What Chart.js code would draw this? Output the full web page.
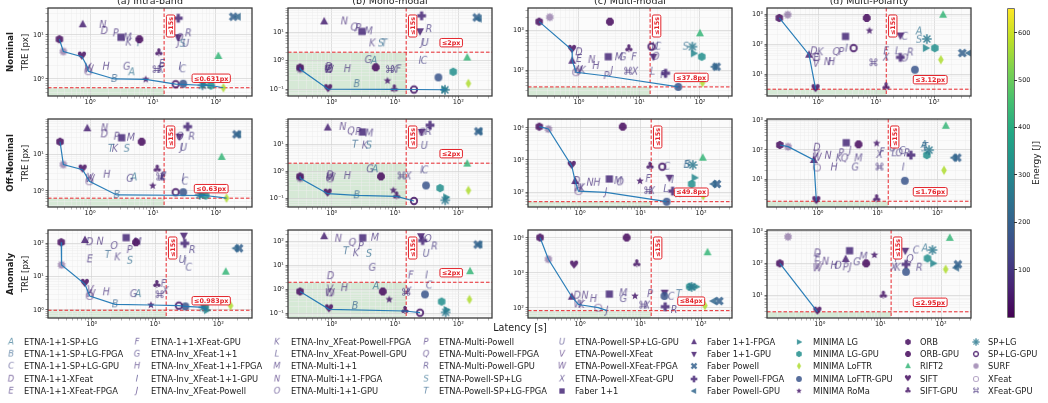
<!DOCTYPE html>
<html>
<head>
<meta charset="utf-8">
<script src="https://cdn.jsdelivr.net/npm/chart.js@4.4.1/dist/chart.umd.min.js"></script>
<style>
  html, body { margin: 0; padding: 0; background: #fff; }
  body { width: 1048px; height: 403px; position: relative; overflow: hidden; font-family: "DejaVu Sans", sans-serif; color: #222; }
  canvas.panel { position: absolute; }
  .txt { position: absolute; white-space: nowrap; }
  .vert { position: absolute; white-space: nowrap; transform: translate(-50%, -50%) rotate(-90deg); }
  .legtxt { position: absolute; white-space: nowrap; font-size: 8.35px; line-height: 10px; transform: translateY(-50%); }
  canvas.legmark { position: absolute; }
</style>
</head>
<body>
<script>
// ---------------------------------------------------------------------------
// Methods (legend order) and their mean energy per run [J]
// ---------------------------------------------------------------------------
const methods = [
  'ETNA-1+1-SP+LG', 'ETNA-1+1-SP+LG-FPGA', 'ETNA-1+1-SP+LG-GPU', 'ETNA-1+1-XFeat', 'ETNA-1+1-XFeat-FPGA',
  'ETNA-1+1-XFeat-GPU', 'ETNA-Inv_XFeat-1+1', 'ETNA-Inv_XFeat-1+1-FPGA', 'ETNA-Inv_XFeat-1+1-GPU', 'ETNA-Inv_XFeat-Powell',
  'ETNA-Inv_XFeat-Powell-FPGA', 'ETNA-Inv_XFeat-Powell-GPU', 'ETNA-Multi-1+1', 'ETNA-Multi-1+1-FPGA', 'ETNA-Multi-1+1-GPU',
  'ETNA-Multi-Powell', 'ETNA-Multi-Powell-FPGA', 'ETNA-Multi-Powell-GPU', 'ETNA-Powell-SP+LG', 'ETNA-Powell-SP+LG-FPGA',
  'ETNA-Powell-SP+LG-GPU', 'ETNA-Powell-XFeat', 'ETNA-Powell-XFeat-FPGA', 'ETNA-Powell-XFeat-GPU', 'Faber 1+1',
  'Faber 1+1-FPGA', 'Faber 1+1-GPU', 'Faber Powell', 'Faber Powell-FPGA', 'Faber Powell-GPU',
  'MINIMA LG', 'MINIMA LG-GPU', 'MINIMA LoFTR', 'MINIMA LoFTR-GPU', 'MINIMA RoMa',
  'ORB', 'ORB-GPU', 'RIFT2', 'SIFT', 'SIFT-GPU',
  'SP+LG', 'SP+LG-GPU', 'SURF', 'XFeat', 'XFeat-GPU'
];
const methodCodes = 'ABCDEFGHIJKLMNOPQRSTUVWX'.split('');
const energyJ = [
  240, 200, 120, 80, 90, 95, 100, 85, 110, 90, 95, 105,
  90, 80, 90, 85, 85, 100, 230, 210, 110, 70, 75, 95,
  75, 60, 55, 200, 70, 215,
  300, 320, 570, 170, 45,
  20, 15, 430, 25, 35, 260, 40, 50, 60, 90
];
const energyRange = [0, 650];
const energyTicks = [100, 200, 300, 400, 500, 600];

// ---------------------------------------------------------------------------
// [latency s, TRE px] per method, one list per scenario / sensor setting
// ---------------------------------------------------------------------------
const nominalIntra = [
  [4.58,1.42],[2.43,1.0],[29.5,1.66],[1.69,12.3],[13.8,2.2],[13.5,1.8],[3.82,1.9],[1.79,1.9],[26.8,1.9],[25.5,6.6],[4.1,6.7],null,
  [3.96,8.7],[1.59,16.9],[26.5,8.6],[2.56,10.9],null,[36.3,10.9],[29.5,6.3],[5.86,6.47],[33,6.3],[0.92,1.8],[0.96,1.65],[13.2,1.6],
  [3.1,8.85],[0.765,17.5],[25.2,8.85],[188,26],[25.2,24],[222,26],
  [64,0.75],[83,0.71],[131,0.631],[30.2,0.78],[7.65,0.98],
  [0.326,8.0],[6.07,8.0],[109,3.33],[0.746,3.2],[12.4,3.83],[61,0.72],[22.9,0.76],[0.377,4.2],[0.94,1.5],[11.4,1.6]
];
const nominalMono = [
  [4.66,1.0],[2.48,0.152],[28.6,1.0],[0.9,0.6],[0.92,0.5],[11.3,0.5],[3.79,1.06],[1.76,0.51],[24.8,1.0],[27,4.2],[4.38,4.06],null,
  [3.84,10.7],[1.58,24],null,[2.63,14.0],[2.27,14.7],[34.2,12.9],[6.0,4.06],[6.77,4.06],[30,4.2],[0.88,0.55],[0.9,0.48],[9.7,0.48],
  [3.0,10.7],[0.76,24],[24.8,10.8],[195,33],[26.3,37.8],[210,30],
  [60,0.1],[83,0.41],[144,0.16],[48.4,0.26],[7.6,0.199],
  [0.316,0.58],[4.95,0.59],[138,1.3],[0.88,0.1],[9.75,0.099],[61.5,0.096],[19.9,0.098],[0.318,0.5],[0.9,0.52],[8.3,0.48]
];
const nominalMulti = [
  null,null,[20,383],[1.0,277],[1.0,188],[8.1,208],[5.3,208],[1.9,126],null,[3.5,95],[1.15,96],[16.5,91],
  [4.6,208],[1.62,178],[18.5,215],[2.86,70.8],null,[25,75],[58,383],null,[18,383],[0.98,92],[0.96,100],[8.4,91],
  [3.05,215],[0.775,171],[17,215],[188,121],[27,83],[172,121],
  [79,261],[107,215],[110,48],[43.8,37.8],null,
  [0.22,1620],[3.25,1620],[100,825],[0.77,316],[6.7,330],[75,383],[15.8,383],[0.33,2090],[0.9,88],[6.5,91]
];
const nominalPolar = [
  [55,263],null,[31,175],[0.85,57],[0.93,34],[14.9,57],null,[1.7,25],[3.1,70],null,[1.1,53],[23.6,57],
  null,[1.45,25],[31,33],[2.52,54],[2.07,54],[39,52],[55,139],null,null,[0.93,22],null,[14.9,35],
  [2.98,179],[0.70,44],[26.2,193],[307,50],[26.2,36],[400,50],
  [72,73],[103,73],[131,30],[46.8,13.9],[7.7,278],
  [0.215,736],[6.9,736],[143,948],[0.91,3.12],[14.9,3.6],[75,147],[4.1,73],[0.30,948],[0.93,38],[9.0,23]
];
const offIntra = [
  [5.0,2.34],[2.65,0.774],[32,1.8],[1.69,36],[14.6,2.5],[14.5,2.34],[4.3,2.15],[1.84,2.78],[30,2.25],[28.5,15.3],[2.49,14.4],null,
  [4.47,29],[1.69,52.7],[26.8,31],[2.65,31],null,[41,31],[3.82,14.4],[2.15,14.4],[30.5,15.3],[0.99,2.3],[1.0,2.1],[14,2.3],
  [3.18,29],[0.905,52.7],[26.3,31],[212,36],[35.5,58.5],[225,36],
  [60,0.78],[68.5,0.745],[147,0.63],[30.2,0.92],[9.88,1.38],
  [0.334,22.5],[6.6,22.5],[123,8.6],[0.765,3.83],[11.7,3.83],[55,0.78],[22.9,0.92],[0.377,5.3],[0.975,1.84],[13,2.34]
];
const offMono = [
  [4.83,1.19],[2.48,0.13],[29.7,1.09],[0.94,0.71],null,null,[4.03,1.19],[1.76,0.67],[26.3,1.09],null,[3.36,9],null,
  [3.93,25],[1.49,43.7],[27,27],[2.63,28.5],[2.02,30],[33.6,28.6],[3.88,9],[2.33,9.7],[29,8.7],[0.95,0.62],[0.96,0.58],[16.2,0.65],
  [3.05,28.5],[0.865,41.5],[26.3,28.6],[207,30],[35.7,50.6],[215,30],
  [64,0.11],[51.5,0.24],[144,0.197],[30.9,0.3],[9.4,0.198],
  [0.316,0.65],[6.0,0.65],[138,1.93],[0.865,0.149],[10.6,0.118],[62,0.085],[19.9,0.08],[0.318,0.55],[0.94,0.55],[12.7,0.65]
];
const offMulti = [
  null,[58,700],[27,617],[0.88,220],null,[13.4,255],null,[1.89,195],[34,237],[2.69,98],[1.07,130],[26.3,124],
  [4.3,220],[1.46,195],[4.6,200],null,null,[42,85],[60,720],null,null,null,[0.94,130],[15.3,107],
  [3.05,255],[0.83,220],[30,280],[183,178],[34,107],[160,178],
  [78,280],[70,178],[109,77],[27,49.8],[9.8,220],
  [0.212,11000],[5.08,11000],[107,1180],[0.73,650],[14.4,617],[73,700],[22.9,617],[0.30,9300],[0.94,107],[13.4,107]
];
const offPolar = [
  [60,146],null,[25.5,91],[0.96,118],null,[11.8,82],[4.2,25],[1.85,25],[26.8,25],[3.47,93],[2.24,51],[18.9,76],
  [4.77,51],[1.47,63],[22.9,76],[2.45,76],[2.78,51],[30.9,76],[60,112],[62,125],[17.8,112],[0.94,70],[0.96,54],[10.7,67],
  [2.97,175],[0.85,45],null,[215,54],[36,66],[189,54],
  null,[66.5,66],[129,20],[28.5,8.8],[9.6,166],
  [0.23,146],[4.77,154],[138,660],[0.94,1.76],[9.6,2.05],[72.6,98],null,[0.316,128],[0.96,25],[10.7,25]
];
const anomIntra = [
  [5.4,3.0],[2.34,1.48],[34,18.6],[0.93,108],[0.93,33],[13.6,6.0],[4.58,3.0],[1.69,3.4],[30,28],null,[2.56,38],null,
  [5.3,108],[1.35,112],[2.26,83],[3.97,63],null,[38.6,63],[4.0,30],[1.79,45],[26.8,31.6],[0.95,4.0],[0.96,3.0],[14.6,3.7],
  [3.5,148],[0.78,126],[28.5,170],[212,71],[29.5,100],[188,71],
  [66,0.983],[62,1.3],[156,1.35],[30.2,1.28],[8.6,1.41],
  [0.33,108],[5.0,108],[131,14.1],[0.78,6.0],[10.7,5.6],[58,1.2],[23.8,1.35],[0.334,22.5],[0.93,2.63],[11.8,2.8]
];
const anomMono = [
  [5.0,1.37],[2.33,0.2],[34.5,1.47],[0.96,3.6],null,[17.7,3.85],[4.38,8.1],[1.58,1.13],[31.6,3.85],null,[2.42,33],null,
  [4.83,146],[1.27,133],[33,130],[2.9,65],[2.12,90],[41.8,63],[3.88,31],[1.68,40],[31,31],[0.93,1.0],[0.93,0.7],[16.2,0.82],
  [3.09,146],[0.76,170],[25.7,170],[202,76],[27.3,112],[215,76],
  [65,0.14],[54.5,0.31],[150,0.38],[29.7,0.62],[8.1,0.38],
  [0.316,0.82],[6.4,0.82],[153,5.8],[0.91,0.146],[14.4,0.125],[63,0.11],[24.8,0.106],null,[0.95,0.75],[14.9,0.73]
];
const anomMulti = [
  null,null,[32,210],[0.9,225],null,null,[5.2,180],[1.66,180],null,[2.8,84],[1.06,122],null,
  [5.2,263],[1.2,225],null,[14.4,250],null,[35.7,88],null,[43,250],null,null,[0.94,127],[12.7,117],
  [3.05,250],[0.73,210],[25,274],[200,158],[25.5,109],[160,158],
  [83,405],[65,405],[116,117],[24.8,220],[8.1,220],
  [0.218,10300],[5.9,10300],[128,3900],[0.80,1620],[8.7,1770],[70,400],null,[0.30,2470],[2.0,102],[11.1,117]
];
const anomPolar = [
  [54,297],null,[38.4,255],[0.917,206],[0.917,144],null,[4.08,108],[1.71,84],[18.1,137],[3.2,75],[19.2,73],null,
  [5.26,162],[1.24,113],[1.99,84],[2.67,75],[30.6,137],[43.6,73],null,null,null,[0.917,82],[0.917,70],[16.5,73],
  [3.1,250],[2.67,137],[25.7,250],[189,93],[26.4,93],[177,73],
  [74,100],[59.6,144],[119,65],[26.4,54],[7.96,183],
  [0.22,100],[5.82,100],[139,640],[0.917,2.95],[11.2,9.5],[72,263],null,[0.30,690],null,null
];

const scenarioNames = ['Nominal', 'Off-Nominal', 'Anomaly'];
const settingTitles = ['(a) Intra-band', '(b) Mono-modal', '(c) Multi-modal', '(d) Multi-Polarity'];
const panelData = [
  [nominalIntra, nominalMono, nominalMulti, nominalPolar],
  [offIntra, offMono, offMulti, offPolar],
  [anomIntra, anomMono, anomMulti, anomPolar]
];
// TRE requirement per panel [px] and latency budget [s]
const treTarget = [
  [0.631, 2, 37.8, 3.12],
  [0.63, 2, 49.8, 1.76],
  [0.983, 2, 84, 2.95]
];
const latencyBudget = 15;
const latencyRange = [
  [[0.215,373],[0.204,340],[0.144,338],[0.132,433]],
  [[0.215,373],[0.204,340],[0.138,325],[0.14,365]],
  [[0.204,340],[0.204,340],[0.138,325],[0.135,311]]
];
const treRange = [
  [[0.41,41],[0.058,71],[22.4,3550],[1.85,1585]],
  [[0.36,95],[0.048,86],[34,19100],[1.12,1125]],
  [[0.575,251],[0.0636,309],[51.8,16900],[1.88,1130]]
];

// ---------------------------------------------------------------------------
// Styling
// ---------------------------------------------------------------------------
const markerKinds = [
  ...methodCodes.map(() => 'letter'),
  'square', 'triUp', 'triDown', 'xFilled', 'plusFilled', 'triLeft',
  'triRight', 'hexagon', 'thinDiamond', 'circle', 'star',
  'hexagon', 'octagon', 'triUp', 'heart', 'club',
  'asterisk', 'ringThick', 'sun', 'ring', 'cmd'
];
const markerAlpha = methods.map((m, i) => i < 24 ? 0.72 : (i === 42 || i === 43 ? 0.45 : 0.85));

const VIRIDIS = ['#440154','#482475','#414487','#355f8d','#2a788e','#21918c','#22a884','#44bf70','#7ad151','#bddf26','#fde725'];
function hexRgb(h) { return [parseInt(h.slice(1,3),16), parseInt(h.slice(3,5),16), parseInt(h.slice(5,7),16)]; }
function viridis(t) {
  t = Math.max(0, Math.min(1, t));
  const p = t * 10, i = Math.min(9, Math.floor(p)), f = p - i;
  const a = hexRgb(VIRIDIS[i]), b = hexRgb(VIRIDIS[i + 1]);
  return a.map((v, k) => Math.round(v + (b[k] - v) * f));
}
function energyColor(e) {
  return viridis((e - energyRange[0]) / (energyRange[1] - energyRange[0]));
}

function polygon(g, n, r, rot) {
  g.beginPath();
  for (let k = 0; k < n; k++) {
    const a = rot + k * 2 * Math.PI / n;
    const x = r * Math.cos(a), y = r * Math.sin(a);
    k ? g.lineTo(x, y) : g.moveTo(x, y);
  }
  g.closePath(); g.fill();
}
function starPath(g, n, ro, ri) {
  g.beginPath();
  for (let k = 0; k < 2 * n; k++) {
    const r = k % 2 ? ri : ro, a = -Math.PI / 2 + k * Math.PI / n;
    const x = r * Math.cos(a), y = r * Math.sin(a);
    k ? g.lineTo(x, y) : g.moveTo(x, y);
  }
  g.closePath(); g.fill();
}

function makeMarker(i) {
  const S = 16;
  const tmp = document.createElement('canvas'); tmp.width = tmp.height = S;
  const g = tmp.getContext('2d');
  const rgb = energyColor(energyJ[i]);
  const col = `rgb(${rgb[0]},${rgb[1]},${rgb[2]})`;
  g.translate(S / 2, S / 2);
  g.fillStyle = col; g.strokeStyle = col;
  g.textAlign = 'center'; g.textBaseline = 'middle';
  switch (markerKinds[i]) {
    case 'letter': g.font = 'italic 9.6px "DejaVu Sans"'; g.fillText(methodCodes[i], 0, 0.5); break;
    case 'square': g.fillRect(-3.6, -3.6, 7.2, 7.2); break;
    case 'triUp': g.beginPath(); g.moveTo(0, -4.4); g.lineTo(4.0, 2.9); g.lineTo(-4.0, 2.9); g.closePath(); g.fill(); break;
    case 'triDown': g.beginPath(); g.moveTo(0, 4.4); g.lineTo(4.0, -2.9); g.lineTo(-4.0, -2.9); g.closePath(); g.fill(); break;
    case 'triLeft': g.beginPath(); g.moveTo(-4.4, 0); g.lineTo(2.9, -4.0); g.lineTo(2.9, 4.0); g.closePath(); g.fill(); break;
    case 'triRight': g.beginPath(); g.moveTo(4.4, 0); g.lineTo(-2.9, -4.0); g.lineTo(-2.9, 4.0); g.closePath(); g.fill(); break;
    case 'xFilled': g.rotate(Math.PI / 4); g.fillRect(-4.8, -1.6, 9.6, 3.2); g.fillRect(-1.6, -4.8, 3.2, 9.6); break;
    case 'plusFilled': g.fillRect(-4.4, -1.6, 8.8, 3.2); g.fillRect(-1.6, -4.4, 3.2, 8.8); break;
    case 'hexagon': polygon(g, 6, 4.3, -Math.PI / 2); break;
    case 'octagon': polygon(g, 8, 4.2, Math.PI / 8); break;
    case 'thinDiamond': g.beginPath(); g.moveTo(0, -4.8); g.lineTo(2.8, 0); g.lineTo(0, 4.8); g.lineTo(-2.8, 0); g.closePath(); g.fill(); break;
    case 'circle': g.beginPath(); g.arc(0, 0, 3.9, 0, 2 * Math.PI); g.fill(); break;
    case 'star': starPath(g, 5, 4.0, 1.7); break;
    case 'heart': g.font = '11.5px "DejaVu Sans"'; g.fillText('\u2665', 0, 0.5); break;
    case 'club': g.font = '11px "DejaVu Sans"'; g.fillText('\u2663', 0, 0.5); break;
    case 'asterisk':
      g.lineWidth = 1.6; g.lineCap = 'round';
      for (let k = 0; k < 4; k++) {
        const a = k * Math.PI / 4;
        g.beginPath(); g.moveTo(-4.2 * Math.cos(a), -4.2 * Math.sin(a)); g.lineTo(4.2 * Math.cos(a), 4.2 * Math.sin(a)); g.stroke();
      }
      break;
    case 'ringThick': g.lineWidth = 1.9; g.beginPath(); g.arc(0, 0, 3.2, 0, 2 * Math.PI); g.stroke(); break;
    case 'ring': g.lineWidth = 1.2; g.beginPath(); g.arc(0, 0, 3.5, 0, 2 * Math.PI); g.stroke(); break;
    case 'sun': starPath(g, 10, 4.5, 3.1); break;
    case 'cmd': g.font = '10px "DejaVu Sans"'; g.fillText('\u2318', 0, 0.5); break;
  }
  const out = document.createElement('canvas'); out.width = out.height = S;
  const o = out.getContext('2d');
  o.globalAlpha = markerAlpha[i];
  o.drawImage(tmp, 0, 0);
  return out;
}

// ---------------------------------------------------------------------------
// Helpers
// ---------------------------------------------------------------------------
const SUP = { '-': '\u207b', '0': '\u2070', '1': '\u00b9', '2': '\u00b2', '3': '\u00b3', '4': '\u2074', '5': '\u2075', '6': '\u2076', '7': '\u2077', '8': '\u2078', '9': '\u2079' };
function powLabel(e) { return '10' + String(e).split('').map(c => SUP[c]).join(''); }
function logTicks(min, max) {
  const t = [];
  for (let k = Math.floor(Math.log10(min)); k <= Math.ceil(Math.log10(max)); k++) {
    for (let m = 1; m <= 9; m++) {
      const v = m * Math.pow(10, k);
      if (v >= min * 0.9999 && v <= max * 1.0001) t.push({ value: v, major: m === 1, exp: k });
    }
  }
  return t;
}
function paretoFront(pts) {
  const s = pts.filter(Boolean).slice().sort((p, q) => p[0] - q[0] || p[1] - q[1]);
  const out = []; let best = Infinity;
  for (const p of s) if (p[1] < best) { out.push({ x: p[0], y: p[1] }); best = p[1]; }
  return out;
}

function tag(ctx, text, cx, cy, vertical) {
  ctx.save();
  ctx.font = 'bold 6.4px "DejaVu Sans"';
  const w = ctx.measureText(text).width + 4, h = 8.4;
  ctx.translate(cx, cy);
  if (vertical) ctx.rotate(-Math.PI / 2);
  ctx.fillStyle = 'rgba(255,255,255,0.92)';
  ctx.strokeStyle = '#e3242b'; ctx.lineWidth = 1;
  ctx.beginPath();
  if (ctx.roundRect) ctx.roundRect(-w / 2, -h / 2, w, h, 1.5); else ctx.rect(-w / 2, -h / 2, w, h);
  ctx.fill(); ctx.stroke();
  ctx.fillStyle = '#e3242b'; ctx.textAlign = 'center'; ctx.textBaseline = 'middle';
  ctx.fillText(text, 0, 0.6);
  ctx.restore();
}

// ---------------------------------------------------------------------------
// Layout
// ---------------------------------------------------------------------------
const colLeft = [48, 288, 528, 767];
const rowTop = [8, 119, 230];
const plotW = 204, plotH = 88;
const padL = 34, padR = 8, padT = 6, padB = 16;

Chart.defaults.font.family = '"DejaVu Sans", sans-serif';
Chart.defaults.color = '#222';

const markerImgs = methods.map((m, i) => makeMarker(i));

function axisCfg(range, isX) {
  return {
    type: 'logarithmic',
    min: range[0], max: range[1],
    afterBuildTicks: s => { s.ticks = logTicks(range[0], range[1]); },
    afterFit: s => { if (isX) s.height = padB; else s.width = padL; },
    ticks: {
      autoSkip: false, maxRotation: 0, minRotation: 0,
      padding: isX ? 0 : 1.5,
      font: { size: 6.6 }, color: '#222',
      callback: (v, i, ticks) => ticks[i].major ? powLabel(ticks[i].exp) : ''
    },
    grid: {
      color: c => (c.tick && c.tick.major) ? '#d3d3d3' : '#ececec',
      lineWidth: c => (c.tick && c.tick.major) ? 0.7 : 0.5,
      tickLength: 2.5,
      tickColor: c => (c.tick && c.tick.major) ? '#333' : '#666',
      drawTicks: true
    },
    border: { display: false }
  };
}

for (let r = 0; r < 3; r++) {
  for (let c = 0; c < 4; c++) {
    const cv = document.createElement('canvas');
    cv.className = 'panel';
    cv.width = plotW + padL + padR; cv.height = plotH + padT + padB;
    cv.style.left = (colLeft[c] - padL) + 'px';
    cv.style.top = (rowTop[r] - padT) + 'px';
    document.body.appendChild(cv);

    const pts = panelData[r][c];
    const shown = [], styles = [];
    pts.forEach((p, i) => { if (p) { shown.push({ x: p[0], y: p[1] }); styles.push(markerImgs[i]); } });
    const thr = treTarget[r][c];

    const decor = {
      id: 'decor' + r + c,
      beforeDraw(chart) {
        const { ctx, chartArea: a, scales: { x, y } } = chart;
        ctx.save();
        ctx.fillStyle = '#fbfbfb';
        ctx.fillRect(a.left, a.top, a.right - a.left, a.bottom - a.top);
        const xb = x.getPixelForValue(latencyBudget), yb = y.getPixelForValue(thr);
        ctx.fillStyle = 'rgba(95,175,95,0.24)';
        ctx.fillRect(a.left, yb, xb - a.left, a.bottom - yb);
        ctx.restore();
      },
      beforeDatasetsDraw(chart) {
        const { ctx, chartArea: a, scales: { x, y } } = chart;
        const xb = x.getPixelForValue(latencyBudget), yb = y.getPixelForValue(thr);
        ctx.save();
        ctx.strokeStyle = '#e8262c'; ctx.lineWidth = 1; ctx.setLineDash([3.5, 2]);
        ctx.beginPath(); ctx.moveTo(a.left, yb); ctx.lineTo(a.right, yb); ctx.stroke();
        ctx.beginPath(); ctx.moveTo(xb, a.top); ctx.lineTo(xb, a.bottom); ctx.stroke();
        ctx.restore();
      },
      afterDraw(chart) {
        const { ctx, chartArea: a, scales: { x, y } } = chart;
        const xb = x.getPixelForValue(latencyBudget), yb = y.getPixelForValue(thr);
        tag(ctx, '\u2264' + latencyBudget + 's', xb + 6.5, a.top + 18, true);
        tag(ctx, '\u2264' + String(thr) + 'px', a.left + 0.8 * (a.right - a.left), yb - 9.5, false);
        ctx.save();
        ctx.strokeStyle = '#3b3b3b'; ctx.lineWidth = 1.3;
        ctx.strokeRect(a.left, a.top, a.right - a.left, a.bottom - a.top);
        ctx.restore();
      }
    };

    new Chart(cv, {
      type: 'scatter',
      data: {
        datasets: [
          {
            type: 'line', data: paretoFront(pts), order: 1,
            borderColor: 'rgba(31,119,180,0.95)', borderWidth: 1.2,
            pointRadius: 0, fill: false, tension: 0, showLine: true
          },
          {
            data: shown, order: 2, pointStyle: styles, pointRadius: 4, pointHoverRadius: 4
          }
        ]
      },
      options: {
        responsive: false, animation: false, devicePixelRatio: 1, events: [],
        layout: { padding: { left: 0, right: padR, top: padT, bottom: 0 } },
        plugins: { legend: { display: false }, tooltip: { enabled: false } },
        scales: { x: axisCfg(latencyRange[r][c], true), y: axisCfg(treRange[r][c], false) }
      },
      plugins: [decor]
    });
  }
}

// ---------------------------------------------------------------------------
// Titles and axis labels
// ---------------------------------------------------------------------------
function addText(text, x, y, css, cls) {
  const d = document.createElement('div');
  d.className = cls || 'txt';
  d.textContent = text;
  d.style.left = x + 'px'; d.style.top = y + 'px';
  Object.assign(d.style, css || {});
  document.body.appendChild(d);
  return d;
}
settingTitles.forEach((t, c) => {
  addText(t, colLeft[c] + plotW / 2, -5, { fontSize: '9.5px', transform: 'translateX(-50%)', lineHeight: '11px' });
});
scenarioNames.forEach((t, r) => {
  const cy = rowTop[r] + plotH / 2;
  addText(t, 10, cy, { fontSize: '8.6px', fontWeight: 'bold' }, 'vert');
  addText('TRE [px]', 24.5, cy, { fontSize: '8.6px' }, 'vert');
});
addText('Latency [s]', 520, 327, { fontSize: '9.6px', transform: 'translate(-50%,-50%)' });

// ---------------------------------------------------------------------------
// Legend (9 columns x 5 rows)
// ---------------------------------------------------------------------------
const legMarkX = [11, 137, 277, 426, 562, 694, 799, 908, 976];
const legTextX = [24, 151, 291, 439, 575, 707, 813, 920, 988];
const legRowY = [342, 354, 366.3, 378.5, 390.5];
methods.forEach((name, i) => {
  const col = Math.floor(i / 5), row = i % 5;
  const m = document.createElement('canvas');
  m.className = 'legmark'; m.width = m.height = 16;
  m.style.left = (legMarkX[col] - 8) + 'px';
  m.style.top = (legRowY[row] - 8) + 'px';
  const g = m.getContext('2d');
  if (markerKinds[i] === 'letter') {
    g.translate(8, 8); g.scale(0.85, 0.85); g.translate(-8, -8);
  } else {
    g.translate(8, 8); g.scale(0.75, 0.75); g.translate(-8, -8);
  }
  g.drawImage(markerImgs[i], 0, 0);
  document.body.appendChild(m);
  const t = document.createElement('div');
  t.className = 'legtxt'; t.textContent = name;
  t.style.left = legTextX[col] + 'px'; t.style.top = legRowY[row] + 'px';
  document.body.appendChild(t);
});

// ---------------------------------------------------------------------------
// Energy colour bar
// ---------------------------------------------------------------------------
const cbX = 1008, cbTop = 9, cbH = 308, cbW = 6;
const bar = document.createElement('div');
const stops = VIRIDIS.map((h, k) => `${h} ${k * 10}%`).join(',');
Object.assign(bar.style, {
  position: 'absolute', left: cbX + 'px', top: cbTop + 'px', width: cbW + 'px', height: cbH + 'px',
  background: `linear-gradient(to top, ${stops})`, boxShadow: '0 0 0 0.7px #333'
});
document.body.appendChild(bar);
energyTicks.forEach(v => {
  const y = cbTop + cbH - (v - energyRange[0]) / (energyRange[1] - energyRange[0]) * cbH;
  const tk = document.createElement('div');
  Object.assign(tk.style, { position: 'absolute', left: (cbX + cbW) + 'px', top: (y - 0.4) + 'px', width: '2.5px', height: '0.8px', background: '#333' });
  document.body.appendChild(tk);
  addText(String(v), cbX + cbW + 4, y, { fontSize: '6.5px', transform: 'translateY(-50%)', lineHeight: '8px' });
});
addText('Energy [J]', 1036, cbTop + cbH / 2, { fontSize: '9px' }, 'vert');
</script>
</body>
</html>
